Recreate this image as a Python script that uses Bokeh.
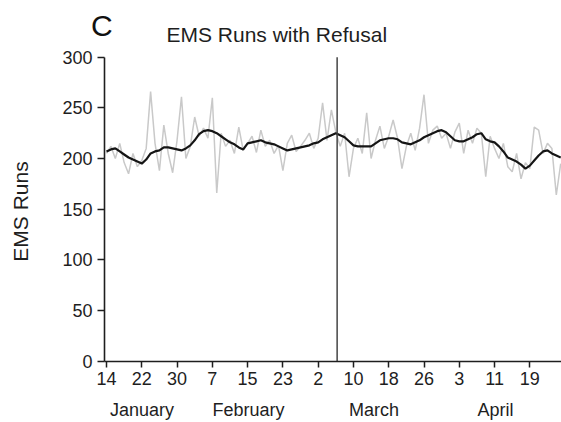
import math
from bokeh.plotting import figure
from bokeh.models import FixedTicker, Label, Range1d
from bokeh.embed import file_html
from bokeh.resources import INLINE

# ---- data (x = days since Jan 1, 2020; day 13 = Jan 14) ----
start_day = 13
daily_runs = [
    205, 212, 200, 215, 196, 185, 205, 192, 198, 210,
    266, 215, 188, 233, 205, 186, 218, 261, 200, 212,
    241, 222, 230, 220, 260, 166, 225, 212, 218, 205,
    231, 208, 215, 222, 206, 228, 212, 218, 205, 213,
    188, 215, 223, 207, 212, 218, 225, 210, 220, 255,
    218, 248, 226, 212, 225, 182, 210, 220, 205, 245,
    200, 218, 232, 210, 222, 238, 220, 190, 212, 225,
    208, 230, 263, 215, 228, 232, 220, 225, 210, 226,
    235, 205, 228, 215, 230, 225, 182, 222, 210, 200,
    215, 192, 187, 205, 180, 196, 190, 231, 228, 205,
    215, 210, 164, 195,
]
smoothed_runs = [
    207, 209, 210, 207, 204, 201, 199, 197, 195, 199,
    205, 207, 208, 211, 211, 210, 209, 208, 210, 213,
    218, 224, 227, 228, 227, 225, 222, 219, 216, 214,
    211, 209, 215, 216, 217, 218, 216, 215, 214, 212,
    210, 208, 209, 210, 211, 212, 213, 215, 216, 219,
    221, 223, 225, 223, 221, 217, 213, 212, 212, 212,
    212, 215, 218, 219, 220, 220, 219, 216, 215, 214,
    216, 218, 221, 223, 225, 227, 228, 226, 222, 218,
    217, 217, 219, 221, 224, 225, 219, 217, 216, 212,
    207, 201, 199, 197, 194, 190, 193, 198, 203, 207,
    208, 205, 203, 201,
]
days = [start_day + i for i in range(len(daily_runs))]

tick_days = [13, 21, 29, 37, 45, 53, 61, 69, 77, 85, 93, 101, 109]
tick_labels = ["14", "22", "30", "7", "15", "23", "2", "10", "18", "26", "3", "11", "19"]
month_names = ["January", "February", "March", "April"]
month_centers = [21.05, 45.2, 73.66, 101.2]
y_ticks = [0, 50, 100, 150, 200, 250, 300]
y_min, y_max = 0, 300
x_axis_start, x_axis_end = 12.55, 116.18
event_day = 65.3  # early March marker

FONT = "Liberation Sans"
INK = "#1e1e1e"

# The frame covers the whole canvas so that texts outside the axes are not clipped;
# axes are pinned at fixed data locations and bounded to their visible extent.
p = figure(width=561, height=422, output_backend="svg", toolbar_location=None,
           title=None, x_range=Range1d(-11.04, 116.18), y_range=Range1d(-60.5, 355.96),
           min_border=0)
p.outline_line_color = None
p.grid.visible = False
p.background_fill_color = "white"
p.border_fill_color = "white"

p.line(days, daily_runs, line_color="#c9c9c9", line_width=1.5)
p.line(days, smoothed_runs, line_color="#151515", line_width=2.2)
p.segment(x0=[event_day], y0=[y_min], x1=[event_day], y1=[y_max],
          line_color="#444444", line_width=1.5)

# axes
xa = p.xaxis[0]
xa.fixed_location = y_min
xa.bounds = (x_axis_start, x_axis_end)
xa.ticker = FixedTicker(ticks=tick_days)
xa.major_label_overrides = {d: l for d, l in zip(tick_days, tick_labels)}
xa.minor_tick_line_color = None
xa.major_tick_in = 0
xa.major_tick_out = 6
xa.major_label_standoff = 5
xa.major_label_text_font = FONT
xa.major_label_text_font_size = "18px"
xa.major_label_text_color = INK
xa.axis_line_color = INK
xa.axis_line_width = 1.6
xa.major_tick_line_color = INK
xa.major_tick_line_width = 1.5

ya = p.yaxis[0]
ya.fixed_location = x_axis_start
ya.bounds = (y_min, y_max)
ya.ticker = FixedTicker(ticks=y_ticks)
ya.minor_tick_line_color = None
ya.major_tick_in = 0
ya.major_tick_out = 7
ya.major_label_standoff = 5
ya.major_label_text_font = FONT
ya.major_label_text_font_size = "18px"
ya.major_label_text_color = INK
ya.axis_line_color = INK
ya.axis_line_width = 1.6
ya.major_tick_line_color = INK
ya.major_tick_line_width = 1.5

# y-axis title
p.add_layout(Label(x=-6.5, y=147.7, text="EMS Runs", angle=math.pi / 2,
                   text_align="center", text_baseline="alphabetic", text_font=FONT,
                   text_font_size="21px", text_color=INK))

# month labels
for name, c in zip(month_names, month_centers):
    p.add_layout(Label(x=c, y=-48.3, text=name, text_align="center",
                       text_baseline="alphabetic", text_font=FONT,
                       text_font_size="18px", text_color=INK))

# title and panel letter
p.add_layout(Label(x=26.6, y=322.4, text="EMS Runs with Refusal", text_align="left",
                   text_baseline="alphabetic", text_font=FONT,
                   text_font_size="21px", text_color=INK))
p.add_layout(Label(x=9.5, y=331.6, text="C", text_align="left",
                   text_baseline="alphabetic", text_font=FONT,
                   text_font_size="30px", text_color="#111111"))

open("out.html", "w").write(file_html(p, INLINE))
